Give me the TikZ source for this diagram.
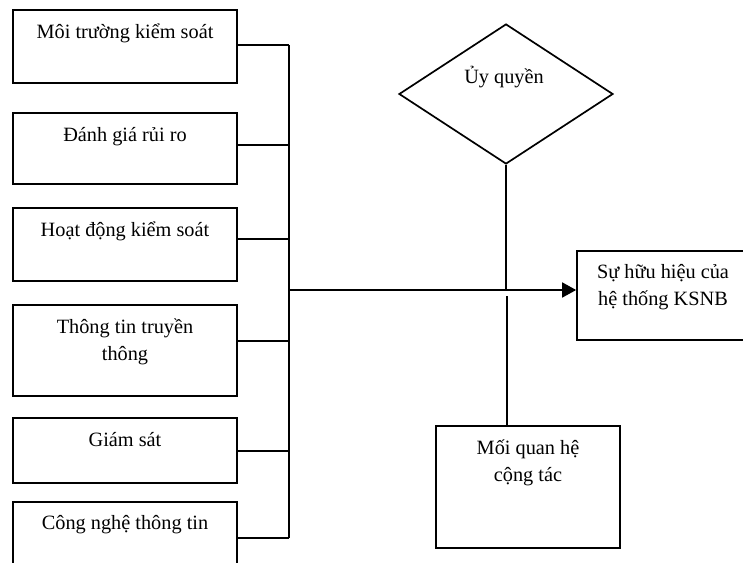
\documentclass[tikz,border=0pt]{standalone}
\usepackage{fontspec}
\setmainfont{Liberation Serif}
\usetikzlibrary{arrows.meta,shapes.geometric,calc}
\newcommand{\boxtext}[1]{\begin{tabular}[t]{@{}c@{}}#1\end{tabular}}
\begin{document}
\begin{tikzpicture}[x=1pt,y=-1pt,
  line width=1.7pt,
  box/.style={draw,rectangle,inner sep=0pt,minimum width=#1},
  box/.default=224,
  lbl/.style={anchor=base,inner sep=0pt,font=\fontsize{20.3}{27}\selectfont},
  conn/.style={draw,line width=1.7pt},
]
\useasboundingbox (0,0) rectangle (743,562);
% left boxes
\node[box,minimum height=73] (b1) at (125,46.5) {};
\node[box,minimum height=71] (b2) at (125,148.5) {};
\node[box,minimum height=73] (b3) at (125,244.5) {};
\node[box,minimum height=91] (b4) at (125,350.5) {};
\node[box,minimum height=65] (b5) at (125,450.5) {};
\node[box,minimum height=90] (b6) at (125,547) {};
\node[lbl] (t1) at ($(b1.north)+(0,29)$) {\boxtext{Môi trường kiểm soát}};
\node[lbl] (t2) at ($(b2.north)+(0,29)$) {\boxtext{Đánh giá rủi ro}};
\node[lbl] (t3) at ($(b3.north)+(0,29)$) {\boxtext{Hoạt động kiểm soát}};
\node[lbl] (t4) at ($(b4.north)+(0,29)$) {\boxtext{Thông tin truyền\\thông}};
\node[lbl] (t5) at ($(b5.north)+(0,29)$) {\boxtext{Giám sát}};
\node[lbl] (t6) at ($(b6.north)+(0,28)$) {\boxtext{Công nghệ thông tin}};
% bus junctions
\coordinate (j1) at (289,45);
\coordinate (j2) at (289,145);
\coordinate (j3) at (289,239);
\coordinate (j4) at (289,341);
\coordinate (j5) at (289,451);
\coordinate (j6) at (289,538);
\coordinate (m) at (289,290);
\draw[conn] (b1.east |- j1) -- (j1);
\draw[conn] (b2.east |- j2) -- (j2);
\draw[conn] (b3.east |- j3) -- (j3);
\draw[conn] (b4.east |- j4) -- (j4);
\draw[conn] (b5.east |- j5) -- (j5);
\draw[conn] (b6.east |- j6) -- (j6);
\draw[conn] (j1) -- (j6);
% target box
\node[box=172,minimum height=89] (k) at (663,295.5) {};
\node[lbl] (tk) at ($(k.north)+(0,28)$) {\boxtext{Sự hữu hiệu của\\hệ thống KSNB}};
\draw[conn,-{Triangle[length=14pt,width=15pt]}] (m) -- (m -| k.west);
% diamond
\node[draw,diamond,inner sep=0pt,minimum width=214,minimum height=140] (d) at (506,94) {};
\node[lbl] (td) at (504,83) {Ủy quyền};
\draw[conn] (d.south) -- (d.south |- m);
% lower box
\node[box=184,minimum height=122] (q) at (528,487) {};
\node[lbl] (tq) at ($(q.north)+(0,29)$) {\boxtext{Mối quan hệ\\cộng tác}};
\coordinate (lq) at (507,296);
\draw[conn] (lq) -- (lq |- q.north);
\end{tikzpicture}
\end{document}
